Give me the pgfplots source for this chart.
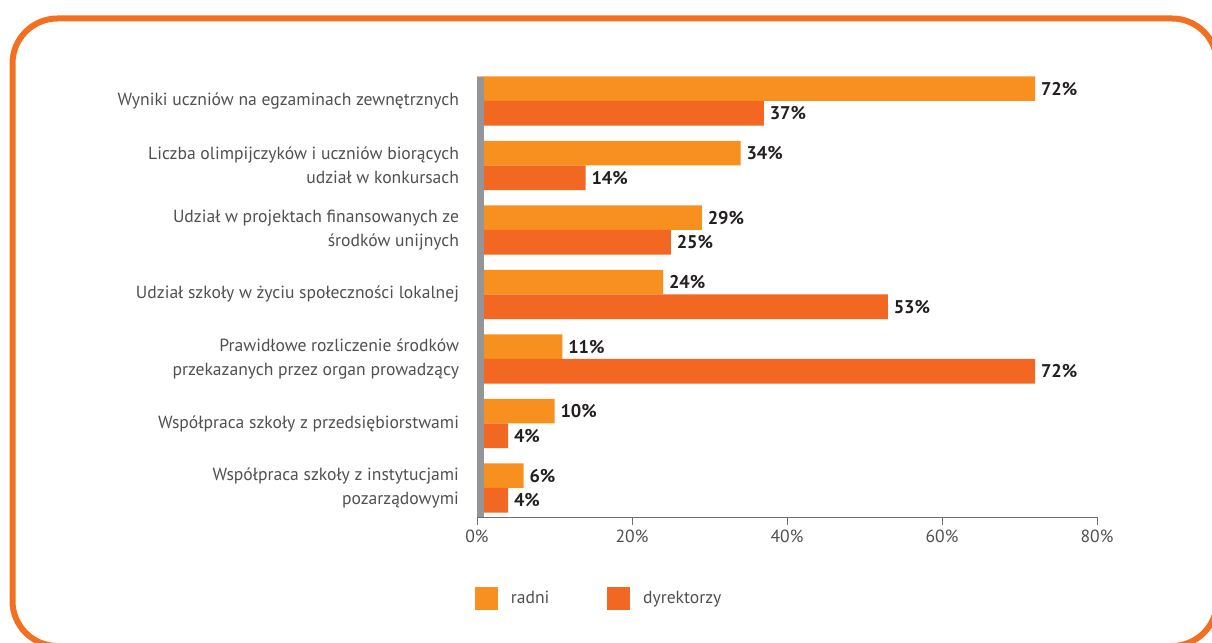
\documentclass[border=0pt]{standalone}
\usepackage{pgfplots}
\pgfplotsset{compat=1.18}
\usepackage{fontspec}
\setmainfont{PT Sans}
\definecolor{radni}{HTML}{F7901E}
\definecolor{dyr}{HTML}{F26722}
\definecolor{framecol}{HTML}{F37021}
\definecolor{axisgray}{HTML}{939598}
\definecolor{axisline}{HTML}{6D6E71}
\definecolor{txt}{HTML}{505052}
\definecolor{val}{HTML}{231F20}
\newcommand{\lblfont}{\fontsize{13.2}{18}\selectfont}

\begin{document}
\begin{tikzpicture}[x=0.75pt,y=0.75pt]
\useasboundingbox (0,0) rectangle (1212,642);
% rounded frame, partly running off the page
\begin{scope}
\clip (0,0) rectangle (1212,642);
\draw[framecol, line width=4.5pt, rounded corners=33.75pt] (12.5,623.5) rectangle (1217,-4);
\end{scope}
\coordinate (origin) at (477,125);
\begin{axis}[
  at={(origin)}, anchor=south west,
  scale only axis, width=465pt, height=330pt,
  xmin=0, xmax=80, ymin=-0.45, ymax=6.372,
  xbar, bar width=18.4pt,
  clip=false,
  /pgf/number format/assume math mode=true,
  axis x line*=bottom, axis y line*=left,
  x axis line style={-, draw=axisline, line width=0.75pt},
  y axis line style={draw=none},
  xtick={0,20,40,60,80},
  xticklabels={0\%,20\%,40\%,60\%,80\%},
  tick align=outside, major tick length=6pt,
  xtick style={draw=axisline, line width=0.75pt},
  ytick={0,...,6},
  ytick style={draw=none},
  yticklabels={
    {Współpraca szkoły z instytucjami\\pozarządowymi},
    {Współpraca szkoły z przedsiębiorstwami},
    {Prawidłowe rozliczenie środków\\przekazanych przez organ prowadzący},
    {Udział szkoły w życiu społeczności lokalnej},
    {Udział w projektach finansowanych ze\\środków unijnych},
    {Liczba olimpijczyków i uczniów biorących\\udział w konkursach},
    {Wyniki uczniów na egzaminach zewnętrznych}},
  yticklabel style={align=right, font=\lblfont, text=txt, xshift=-4pt},
  xticklabel style={font=\lblfont, text=txt},
  point meta=x,
  nodes near coords={\pgfmathprintnumber{\pgfplotspointmeta}\%},
  nodes near coords style={font=\fontsize{13.8}{18}\selectfont\bfseries, text=val, anchor=west, xshift=1pt},
  legend columns=2,
  legend style={draw=none, fill=none, at={(rel axis cs:0,0)}, anchor=north west,
    yshift=-50pt, xshift=-4.5pt, font=\lblfont, text=txt,
    /tikz/every odd column/.append style={column sep=7.5pt},
    /tikz/every even column/.append style={column sep=41.5pt}},
]
\addplot[draw=none, fill=radni, bar shift=9.2pt,
  legend image code/.code={\fill[radni] (0pt,-8.6pt) rectangle (17.25pt,8.6pt);}]
  coordinates {(72,6) (34,5) (29,4) (24,3) (11,2) (10,1) (6,0)};
\addlegendentry{radni}
\addplot[draw=none, fill=dyr, bar shift=-9.2pt,
  legend image code/.code={\fill[dyr] (0pt,-8.6pt) rectangle (17.25pt,8.6pt);}]
  coordinates {(37,6) (14,5) (25,4) (53,3) (72,2) (4,1) (4,0)};
\addlegendentry{dyrektorzy}
% grey left axis bar
\draw[axisgray, line width=5.25pt] ([xshift=2.6pt]rel axis cs:0,0) -- ([xshift=2.6pt]rel axis cs:0,1);
\end{axis}
\end{tikzpicture}
\end{document}
